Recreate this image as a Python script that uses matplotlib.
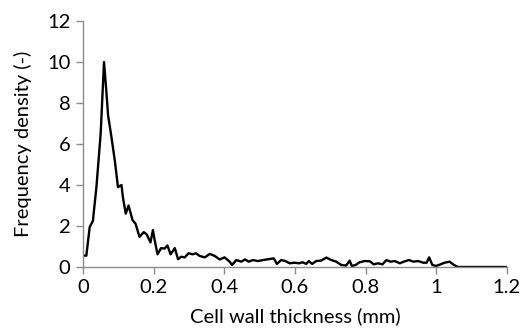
import matplotlib
matplotlib.use("Agg")
from matplotlib import pyplot as plt

# Cell wall thickness (mm) vs frequency density
thickness = [0.0, 0.0094, 0.019, 0.028, 0.038, 0.050, 0.0595, 0.066, 0.071, 0.080,
             0.090, 0.099, 0.109, 0.113, 0.121, 0.129, 0.140, 0.149, 0.160, 0.172,
             0.180, 0.191, 0.198, 0.203, 0.211, 0.221, 0.231, 0.239, 0.248, 0.260,
             0.269, 0.278, 0.288, 0.299, 0.310, 0.320,
             0.330, 0.345, 0.359, 0.373, 0.387, 0.401, 0.415, 0.422, 0.434, 0.448,
             0.459, 0.469, 0.481, 0.495, 0.510, 0.528, 0.540, 0.549, 0.561, 0.573,
             0.585, 0.599, 0.611, 0.622, 0.632, 0.639, 0.649, 0.660, 0.674, 0.689,
             0.703, 0.717, 0.731, 0.745, 0.755, 0.761, 0.772, 0.783, 0.797, 0.812,
             0.823, 0.835, 0.848, 0.859, 0.870, 0.883, 0.897, 0.908, 0.923, 0.935,
             0.949, 0.963, 0.973, 0.980, 0.989, 1.000, 1.012, 1.024, 1.038, 1.050,
             1.062, 1.2]
density = [0.57, 0.55, 1.95, 2.25, 3.9, 6.5, 10.0, 8.6, 7.4, 6.4,
           5.2, 3.9, 4.0, 3.4, 2.6, 3.0, 2.3, 2.1, 1.47, 1.7,
           1.6, 1.2, 1.8, 1.3, 0.62, 0.92, 0.9, 1.05, 0.62, 0.92,
           0.38, 0.5, 0.47, 0.67, 0.62, 0.67,
           0.54, 0.47, 0.64, 0.54, 0.37, 0.47, 0.26, 0.1, 0.34, 0.26,
           0.37, 0.26, 0.34, 0.29, 0.34, 0.39, 0.42, 0.15, 0.34, 0.29,
           0.18, 0.21, 0.18, 0.23, 0.15, 0.29, 0.15, 0.29, 0.31, 0.46,
           0.34, 0.26, 0.1, 0.07, 0.31, 0.05, 0.1, 0.23, 0.29, 0.28,
           0.13, 0.18, 0.13, 0.34, 0.26, 0.29, 0.18, 0.26, 0.34, 0.26,
           0.29, 0.21, 0.21, 0.47, 0.1, 0.05, 0.13, 0.21, 0.26, 0.1,
           0.0, 0.0]

x_ticks = [0, 0.2, 0.4, 0.6, 0.8, 1, 1.2]
x_labels = ["0", "0.2", "0.4", "0.6", "0.8", "1", "1.2"]
y_ticks = [0, 2, 4, 6, 8, 10, 12]

plt.rcParams['font.family'] = ['Lato', 'DejaVu Sans']

fig = plt.figure(figsize=(5.22, 3.34), dpi=100)
ax = fig.add_axes([0.159, 0.2006, 0.812, 0.7364])

ax.plot(thickness, density, color="black", linewidth=1.7, solid_joinstyle="round")

ax.set_xlim(0, 1.2)
ax.set_ylim(0, 12)
ax.set_xticks(x_ticks)
ax.set_xticklabels(x_labels)
ax.set_yticks(y_ticks)

for side in ["top", "right"]:
    ax.spines[side].set_visible(False)
for side in ["left", "bottom"]:
    ax.spines[side].set_color("#8c8c8c")
    ax.spines[side].set_linewidth(1.0)
ax.tick_params(direction="out", length=5, width=1.0, color="#8c8c8c",
               labelsize=14.5, labelcolor="black", pad=4)

ax.set_xlabel("Cell wall thickness (mm)", fontsize=14.5, labelpad=8)
ax.set_ylabel("Frequency density (-)", fontsize=14.5, labelpad=11)

fig.savefig("out.png", dpi=100)
